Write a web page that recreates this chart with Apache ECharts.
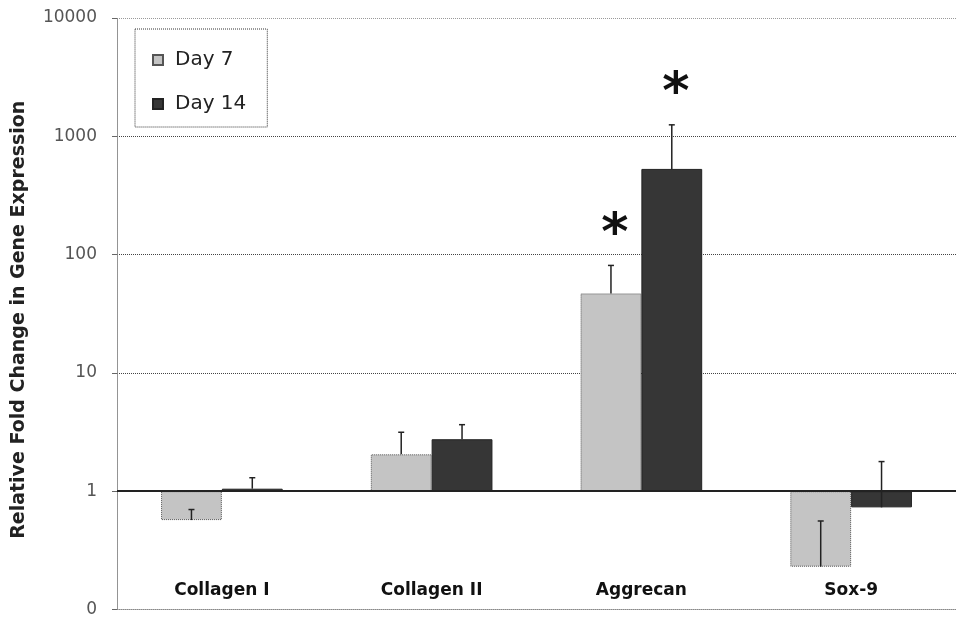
<!DOCTYPE html>
<html>
<head>
<meta charset="utf-8">
<script src="https://cdn.jsdelivr.net/npm/echarts@6/dist/echarts.min.js"></script>
<style>html,body{margin:0;padding:0;background:#fff;}#c{width:956px;height:618px;}</style>
</head>
<body>
<div id="c"></div>
<script>
const categories = ['Collagen I', 'Collagen II', 'Aggrecan', 'Sox-9'];
const seriesNames = ['Day 7', 'Day 14'];
const day7 = [0.57, 2.05, 47, 0.23];
const day14 = [1.05, 2.75, 530, 0.73];
const day7ErrTop = [0.70, 3.15, 81, 0.56];
const day14ErrTop = [1.30, 3.65, 1250, 1.78];
const day7Sig = [false, false, true, false];
const day14Sig = [false, false, true, false];
const yTickLabels = {0.1: '0', 1: '1', 10: '10', 100: '100', 1000: '1000', 10000: '10000'};

const barGapRatio = 0.42;
const FONT = 'DejaVu Sans';

function errSeries(name, vals, tops, sig, side) {
  const data = vals.map((v, i) => [i, v, tops[i], sig[i] ? 1 : 0]);
  return {
    type: 'custom',
    name: name + ' err',
    z: 5,
    silent: true,
    data: data,
    renderItem: function (params, api) {
      const i = api.value(0);
      const c0 = api.coord([i, api.value(1)]);
      const c1 = api.coord([i, api.value(2)]);
      const bw = api.size([1, 1])[0];
      const x = c0[0] + side * bw * (1 - barGapRatio) / 4;
      const children = [
        {type: 'line', shape: {x1: x, y1: c0[1], x2: x, y2: c1[1]}, style: {stroke: '#222', lineWidth: 1.5}},
        {type: 'line', shape: {x1: x - 3, y1: c1[1], x2: x + 3, y2: c1[1]}, style: {stroke: '#222', lineWidth: 1.5}}
      ];
      if (api.value(3)) {
        children.push({type: 'text', style: {text: '*', x: x + 4, y: c1[1] - 30, align: 'center', verticalAlign: 'middle', fontSize: 52, fontWeight: 'bold', fill: '#111', fontFamily: FONT}});
      }
      return {type: 'group', children: children};
    }
  };
}

const chart = echarts.init(document.getElementById('c'));
chart.setOption({
  animation: false,
  backgroundColor: '#fff',
  textStyle: {fontFamily: FONT},
  grid: {left: 117, right: 0, top: 18, bottom: 8, containLabel: false},
  legend: {
    data: seriesNames,
    orient: 'vertical',
    left: 135, top: 29,
    itemWidth: 10, itemHeight: 10, itemGap: 24,
    icon: 'rect',
    padding: [21, 21, 13, 17],
    borderColor: '#333', borderWidth: 1, borderType: 'dotted',
    textStyle: {fontSize: 20, color: '#222', padding: [0, 0, 0, 7]}
  },
  xAxis: {
    type: 'category',
    data: categories,
    axisLine: {show: true, lineStyle: {color: '#888', type: 'dotted', width: 1}},
    axisTick: {show: false},
    axisLabel: {margin: -27, fontSize: 17, fontWeight: 'bold', color: '#111'},
    splitLine: {show: false}
  },
  yAxis: {
    type: 'log',
    logBase: 10,
    min: 0.1,
    max: 10000,
    splitNumber: 5,
    name: 'Relative Fold Change in Gene Expression',
    nameLocation: 'middle',
    nameGap: 88,
    nameTextStyle: {fontSize: 19, fontWeight: 'bold', color: '#222', padding: [0, 12, 0, 0]},
    axisLine: {show: true, lineStyle: {color: '#888', type: 'dotted', width: 1}},
    axisTick: {show: true, length: 5, lineStyle: {color: '#666'}},
    axisLabel: {fontSize: 17, color: '#555', margin: 20, formatter: v => (yTickLabels[v] !== undefined ? yTickLabels[v] : (v < 1 ? '0' : String(v)))},
    splitLine: {show: true, lineStyle: {color: ['#aaa', '#222', '#444', '#444', '#444', '#999'], type: 'dotted', width: 1}}
  },
  series: [
    {
      type: 'bar', name: seriesNames[0], data: day7,
      barGap: '0%', barCategoryGap: '42%',
      itemStyle: {color: '#c4c4c4', borderColor: '#555', borderWidth: 1, borderType: 'dotted'},
      markLine: {silent: true, symbol: 'none', label: {show: false}, lineStyle: {color: '#222', type: 'solid', width: 2}, data: [{yAxis: 1}]}
    },
    {
      type: 'bar', name: seriesNames[1], data: day14,
      itemStyle: {color: '#363636', borderColor: '#222', borderWidth: 1}
    },
    errSeries(seriesNames[0], day7, day7ErrTop, day7Sig, -1),
    errSeries(seriesNames[1], day14, day14ErrTop, day14Sig, 1)
  ]
});
</script>
</body>
</html>
